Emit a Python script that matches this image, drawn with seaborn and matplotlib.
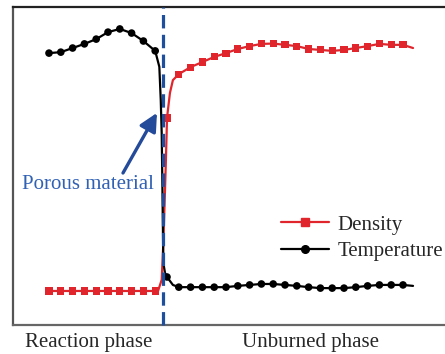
import matplotlib
matplotlib.use("Agg")
import matplotlib.pyplot as plt
import seaborn as sns
import pandas as pd
from matplotlib.lines import Line2D

# ---- data (x in sample index units, y normalised 0..1) ----
dens_marker_x = list(range(31))
dens_marker_y = [0.107]*10 + [0.651, 0.789, 0.811, 0.827, 0.843, 0.855, 0.868, 0.877,
                              0.884, 0.885, 0.881, 0.877, 0.868, 0.865, 0.862, 0.865,
                              0.871, 0.877, 0.884, 0.881, 0.881]
dens_extra_x = [9.24, 9.55, 9.70, 9.89, 9.97, 10.25, 10.5, 30.85]
dens_extra_y = [0.107, 0.142, 0.267, 0.497, 0.604, 0.730, 0.770, 0.871]

temp_marker_x = list(range(31))
temp_marker_y = [0.855, 0.858, 0.871, 0.884, 0.899, 0.921, 0.931, 0.918, 0.893, 0.862,
                 0.151, 0.119, 0.119, 0.119, 0.119, 0.119, 0.123, 0.126, 0.129, 0.129,
                 0.126, 0.123, 0.119, 0.116, 0.116, 0.116, 0.119, 0.123, 0.126, 0.126, 0.126]
temp_extra_x = [9.35, 9.47, 9.55, 9.60, 9.69, 9.83, 10.5, 30.85]
temp_extra_y = [0.812, 0.708, 0.604, 0.465, 0.195, 0.164, 0.126, 0.123]

boundary_x = 9.66
series_labels = ["Density", "Temperature"]
phase_labels = ["Reaction phase", "Unburned phase"]
note_label = "Porous material"

RED = "#e0262c"
BLACK = "#000000"
BLUE = "#1f4e9c"
FS = 15

sns.set_theme(style="white")
plt.rcParams["font.family"] = ["Liberation Serif", "DejaVu Serif"]

fig = plt.figure(figsize=(4.45, 3.54), dpi=100)
ax_w = 1.0 - 13/445 + 0.01
ax = fig.add_axes([13/445, 29/354, ax_w, 318/354])

def line_df(mx, my, ex, ey):
    df = pd.DataFrame({"x": list(mx) + list(ex), "y": list(my) + list(ey)})
    return df.sort_values("x")

d_line = line_df(dens_marker_x, dens_marker_y, dens_extra_x, dens_extra_y)
t_line = line_df(temp_marker_x, temp_marker_y, temp_extra_x, temp_extra_y)

sns.lineplot(data=d_line, x="x", y="y", ax=ax, color=RED, lw=1.6, sort=False, zorder=3)
sns.lineplot(data=t_line, x="x", y="y", ax=ax, color=BLACK, lw=1.6, sort=False, zorder=3)
sns.scatterplot(x=dens_marker_x, y=dens_marker_y, ax=ax, color=RED, marker="s",
                s=26, edgecolor="none", zorder=4)
sns.scatterplot(x=temp_marker_x, y=temp_marker_y, ax=ax, color=BLACK, marker="o",
                s=30, edgecolor="none", zorder=4)

ax.axvline(boundary_x, color=BLUE, lw=2.3, linestyle=(0, (4.2, 2.0)), zorder=5,
           clip_on=False, ymin=0, ymax=1.0)

x_left = (13 - 49) / 11.8
ax.set_xlim(x_left, x_left + ax_w * 445 / 11.8)
ax.set_ylim(0, 1)
ax.set_xticks([])
ax.set_yticks([])
ax.set_xlabel("")
ax.set_ylabel("")
for s in ["left", "top", "bottom"]:
    ax.spines[s].set_visible(True)
    ax.spines[s].set_linewidth(1.6)
ax.spines["left"].set_color("#555555")
ax.spines["top"].set_color("#222222")
ax.spines["bottom"].set_color("#666666")
ax.spines["right"].set_visible(False)

ax.annotate("", xy=(9.15, 0.667), xytext=(6.27, 0.478),
            arrowprops=dict(arrowstyle="-|>,head_length=0.9,head_width=0.45",
                            color="#244a9a", lw=2.4, shrinkA=0, shrinkB=0), zorder=6)
ax.text(3.3, 0.443, note_label, color="#3061b4", fontsize=FS, ha="center", va="center")

handles = [Line2D([], [], color=RED, lw=1.6, marker="s", markersize=5.5),
           Line2D([], [], color=BLACK, lw=1.6, marker="o", markersize=5.5)]
ax.legend(handles, series_labels, loc="upper left",
          bbox_to_anchor=((281 - 13) / (ax_w * 445), (325 - 215) / 318),
          frameon=False, fontsize=FS, handlelength=2.3, handletextpad=0.4,
          labelspacing=0.32, borderpad=0, borderaxespad=0)

fig.text(89/445, 1 - 342/354, phase_labels[0], ha="center", va="center", fontsize=FS)
fig.text(311/445, 1 - 342/354, phase_labels[1], ha="center", va="center", fontsize=FS)

fig.savefig("out.png", dpi=100)
